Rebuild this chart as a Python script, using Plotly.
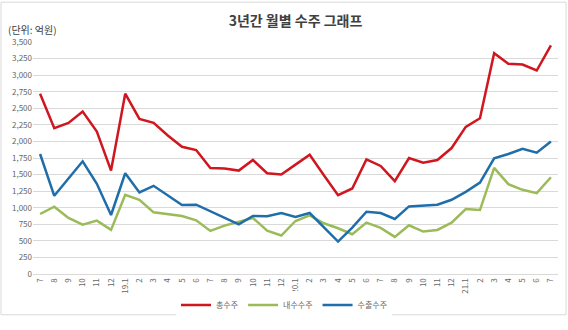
import plotly.graph_objects as go

months = ["7", "8", "9", "10", "11", "12", "19.1", "2", "3", "4", "5", "6",
          "7", "8", "9", "10", "11", "12", "20.1", "2", "3", "4", "5", "6",
          "7", "8", "9", "10", "11", "12", "21.1", "2", "3", "4", "5", "6", "7"]

total_orders = [2720, 2200, 2280, 2450, 2150, 1560, 2720, 2340, 2280, 2090, 1920, 1870,
                1600, 1590, 1560, 1720, 1520, 1500, 1650, 1800, 1490, 1190, 1290, 1730,
                1630, 1400, 1750, 1680, 1720, 1900, 2220, 2350, 3330, 3170, 3160, 3070, 3450]

domestic_orders = [905, 1015, 845, 745, 805, 665, 1195, 1120, 930, 900, 875, 810,
                   650, 730, 790, 845, 655, 580, 800, 885, 765, 690, 600, 775,
                   695, 560, 735, 640, 665, 775, 980, 965, 1600, 1355, 1270, 1220, 1460]

export_orders = [1810, 1180, 1440, 1700, 1360, 890, 1520, 1230, 1330, 1180, 1040, 1045,
                 950, 850, 750, 875, 870, 920, 860, 920, 700, 490, 700, 940,
                 920, 830, 1020, 1035, 1045, 1120, 1240, 1380, 1745, 1810, 1890, 1830, 2000]

series_names = ["총수주", "내수수주", "수출수주"]
series_colors = ["#D0161E", "#9BBB59", "#1F6EAA"]
y_ticks = list(range(0, 3501, 250))

FONT = "Noto Sans CJK KR, Noto Sans, sans-serif"
x = list(range(len(months)))

fig = go.Figure()
for name, vals, col in zip(series_names, [total_orders, domestic_orders, export_orders], series_colors):
    fig.add_trace(go.Scatter(x=x, y=vals, mode="lines", name=name,
                             line=dict(color=col, width=2.5)))

L, R, T, B = 33, 10, 42, 49
W, H = 568, 330
pw, ph = W - L - R, H - T - B

def px_to_paper_x(px):
    return (px - L) / pw

def py_to_paper_y(py):
    return (H - B - py) / ph

fig.update_layout(
    width=W, height=H,
    margin=dict(l=L, r=R, t=T, b=B),
    paper_bgcolor="white", plot_bgcolor="white",
    font=dict(family=FONT, size=8, color="#666666"),
    title=dict(text="3년간 월별 수주 그래프", x=0.5, xref="paper", xanchor="center",
               y=1 - 21 / H, yanchor="middle",
               font=dict(family=FONT, size=14, color="#404040", weight="bold")),
    showlegend=True,
    legend=dict(orientation="h", x=px_to_paper_x(284), xanchor="center",
                y=py_to_paper_y(313), yanchor="middle",
                font=dict(family=FONT, size=8, color="#666666"),
                itemwidth=30, tracegroupgap=0),
    xaxis=dict(tickmode="array", tickvals=x, ticktext=months, tickangle=-90,
               range=[-0.5, len(months) - 0.5], showgrid=False, zeroline=False,
               showline=True, linecolor="#D9D9D9", linewidth=1, ticks="",
               tickfont=dict(family=FONT, size=8, color="#666666"), fixedrange=True),
    yaxis=dict(range=[0, 3500], tickmode="array", tickvals=y_ticks, tickformat=",",
               showgrid=True, gridcolor="#D9D9D9", gridwidth=1, zeroline=False,
               showline=False, ticks="",
               tickfont=dict(family=FONT, size=8, color="#666666"), fixedrange=True),
    annotations=[dict(text="(단위: 억원)", xref="paper", yref="paper",
                      x=px_to_paper_x(6), y=py_to_paper_y(29), xanchor="left",
                      yanchor="middle", showarrow=False,
                      font=dict(family=FONT, size=10, color="#404040"))],
    shapes=[dict(type="rect", xref="paper", yref="paper",
                 x0=px_to_paper_x(1), x1=px_to_paper_x(566),
                 y0=py_to_paper_y(323), y1=py_to_paper_y(1),
                 line=dict(color="#D9D9D9", width=1), fillcolor="rgba(0,0,0,0)",
                 layer="below")],
)

fig.write_html("out.html")
